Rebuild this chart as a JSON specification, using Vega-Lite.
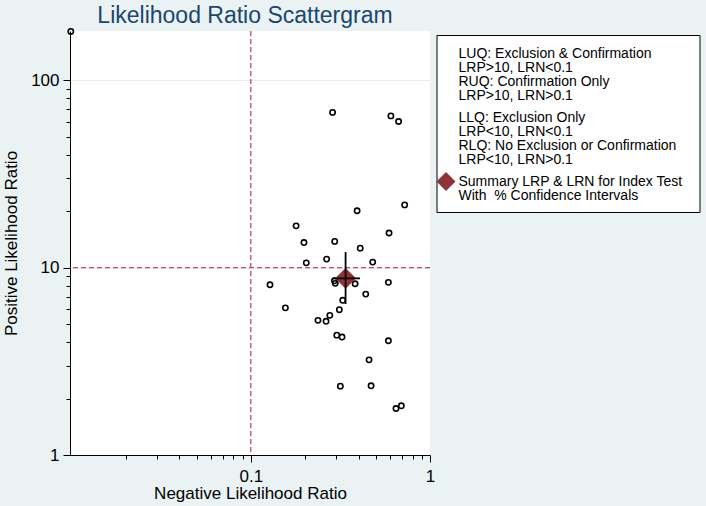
{
  "$schema": "https://vega.github.io/schema/vega-lite/v6.json",
  "width": 360,
  "height": 424,
  "autosize": {"type": "none"},
  "padding": {"left": 70, "top": 31, "right": 276, "bottom": 51},
  "background": "#eaf2f3",
  "config": {
    "view": {"fill": "white", "stroke": null},
    "font": "Liberation Sans",
    "style": {"guide-label": {"lineHeight": 14.2}}
  },
  "title": {
    "text": "Likelihood Ratio Scattergram",
    "fontSize": 23,
    "font": "Liberation Sans",
    "fontWeight": "normal",
    "color": "#1a476f",
    "anchor": "middle",
    "frame": "group",
    "dx": -5,
    "offset": -2
  },
  "resolve": {"axis": {"x": "independent", "y": "independent"}},
  "datasets": {
    "studies": [
      {"lrn": 0.0099, "lrp": 182},
      {"lrn": 0.286, "lrp": 67.3},
      {"lrn": 0.605, "lrp": 64.5},
      {"lrn": 0.668, "lrp": 60.2},
      {"lrn": 0.722, "lrp": 21.6},
      {"lrn": 0.392, "lrp": 20.1},
      {"lrn": 0.179, "lrp": 16.7},
      {"lrn": 0.591, "lrp": 15.3},
      {"lrn": 0.198, "lrp": 13.6},
      {"lrn": 0.294, "lrp": 13.8},
      {"lrn": 0.408, "lrp": 12.7},
      {"lrn": 0.204, "lrp": 10.6},
      {"lrn": 0.265, "lrp": 11.1},
      {"lrn": 0.479, "lrp": 10.7},
      {"lrn": 0.128, "lrp": 8.1},
      {"lrn": 0.293, "lrp": 8.5},
      {"lrn": 0.296, "lrp": 8.24},
      {"lrn": 0.382, "lrp": 8.2},
      {"lrn": 0.586, "lrp": 8.34},
      {"lrn": 0.438, "lrp": 7.22},
      {"lrn": 0.326, "lrp": 6.69},
      {"lrn": 0.156, "lrp": 6.1},
      {"lrn": 0.312, "lrp": 5.96},
      {"lrn": 0.276, "lrp": 5.56},
      {"lrn": 0.237, "lrp": 5.23},
      {"lrn": 0.263, "lrp": 5.17},
      {"lrn": 0.302, "lrp": 4.36},
      {"lrn": 0.323, "lrp": 4.26},
      {"lrn": 0.586, "lrp": 4.07},
      {"lrn": 0.457, "lrp": 3.22},
      {"lrn": 0.316, "lrp": 2.33},
      {"lrn": 0.469, "lrp": 2.34},
      {"lrn": 0.646, "lrp": 1.77},
      {"lrn": 0.692, "lrp": 1.83}
    ],
    "summary": [
      {"lrn": 0.338, "lrp": 8.76, "lrn_lo": 0.288, "lrn_hi": 0.407, "lrp_lo": 6.39, "lrp_hi": 12.1, "kind": "Summary LRP & LRN for Index Test|With \u00a0% Confidence Intervals"}
    ],
    "cutoffs": [
      {"lrn": 0.1, "lrp": 10}
    ]
  },
  "layer": [
    {
      "data": {"name": "cutoffs"},
      "mark": {"type": "rule", "color": "#bf4a66", "strokeWidth": 1.3, "strokeDash": [5, 3]},
      "encoding": {
        "x": {
          "field": "lrn", "type": "quantitative",
          "scale": {"type": "log", "domain": [0.0098, 1]},
          "axis": {
            "orient": "bottom",
            "title": "Negative Likelihood Ratio",
            "values": [0.1, 1],
            "format": "~g",
            "tickSize": 7,
            "domain": false,
            "grid": false,
            "tickColor": "black",
            "labelFontSize": 17,
            "labelColor": "black",
            "labelFlush": false,
            "labelOverlap": false,
            "labelPadding": 6,
            "titleFontSize": 17,
            "titleFontWeight": "normal",
            "titleColor": "black",
            "titlePadding": 1
          }
        }
      }
    },
    {
      "data": {"name": "cutoffs"},
      "mark": {"type": "rule", "color": "#bf4a66", "strokeWidth": 1.3, "strokeDash": [5, 3]},
      "encoding": {
        "y": {
          "field": "lrp", "type": "quantitative",
          "scale": {"type": "log", "domain": [1, 183]},
          "axis": {
            "orient": "left",
            "title": "Positive Likelihood Ratio",
            "values": [1, 10, 100],
            "format": "~g",
            "tickSize": 7,
            "domain": false,
            "grid": true,
            "gridColor": "#e3ecef",
            "gridWidth": 1,
            "tickColor": "black",
            "labelAngle": 0,
            "labelFontSize": 17,
            "labelColor": "black",
            "labelFlush": false,
            "labelOverlap": false,
            "labelPadding": 4,
            "titleFontSize": 17,
            "titleFontWeight": "normal",
            "titleColor": "black",
            "titlePadding": 10
          }
        }
      }
    },
    {
      "data": {"name": "studies"},
      "mark": {"type": "point", "shape": "circle", "filled": false, "color": "black", "strokeWidth": 1.6, "size": 28, "opacity": 1},
      "encoding": {
        "x": {
          "field": "lrn", "type": "quantitative",
          "scale": {"type": "log", "domain": [0.0098, 1]},
          "axis": {
            "orient": "bottom",
            "title": null,
            "values": [0.02, 0.03, 0.04, 0.05, 0.06, 0.07, 0.08, 0.09, 0.2, 0.3, 0.4, 0.5, 0.6, 0.7, 0.8, 0.9],
            "labels": false,
            "tickSize": 4,
            "grid": false,
            "domainColor": "black",
            "tickColor": "black"
          }
        },
        "y": {
          "field": "lrp", "type": "quantitative",
          "scale": {"type": "log", "domain": [1, 183]},
          "axis": {
            "orient": "left",
            "title": null,
            "values": [2, 3, 4, 5, 6, 7, 8, 9, 20, 30, 40, 50, 60, 70, 80, 90],
            "labels": false,
            "tickSize": 4,
            "grid": false,
            "domainColor": "black",
            "tickColor": "black"
          }
        }
      }
    },
    {
      "data": {"name": "summary"},
      "mark": {"type": "point", "shape": "diamond", "filled": true, "size": 440, "opacity": 1, "strokeWidth": 0},
      "encoding": {
        "x": {"field": "lrn", "type": "quantitative", "scale": {"type": "log", "domain": [0.0098, 1]}, "axis": null},
        "y": {"field": "lrp", "type": "quantitative", "scale": {"type": "log", "domain": [1, 183]}, "axis": null},
        "color": {
          "field": "kind", "type": "nominal",
          "scale": {
            "domain": [
              "LUQ: Exclusion & Confirmation|LRP>10, LRN<0.1|RUQ: Confirmation Only|LRP>10, LRN>0.1",
              "LLQ: Exclusion Only|LRP<10, LRN<0.1|RLQ: No Exclusion or Confirmation \u2800|LRP<10, LRN>0.1",
              "Summary LRP & LRN for Index Test|With \u00a0% Confidence Intervals"
            ],
            "range": ["rgba(0,0,0,0)", "rgba(0,0,0,0)", "#8e3439"]
          },
          "legend": {
            "orient": "none",
            "legendX": 366.5,
            "legendY": 4,
            "title": null,
            "symbolType": "diamond",
            "symbolSize": 361,
            "symbolStrokeWidth": 0,
            "symbolOffset": -9,
            "labelOffset": 3,
            "labelFontSize": 14,
            "labelFont": "Liberation Sans",
            "labelColor": "black",
            "labelLimit": 400,
            "labelExpr": "split(datum.label, '|')",
            "padding": 9,
            "rowPadding": 4,
            "strokeColor": "black",
            "fillColor": "white",
            "encode": {
              "labels": {"lineHeight": {"value": 14.2}}
            }
          }
        }
      }
    },
    {
      "data": {"name": "summary"},
      "mark": {"type": "rule", "color": "black", "strokeWidth": 1.8},
      "encoding": {
        "x": {"field": "lrn", "type": "quantitative", "scale": {"type": "log", "domain": [0.0098, 1]}, "axis": null},
        "y": {"field": "lrp_lo", "type": "quantitative", "scale": {"type": "log", "domain": [1, 183]}, "axis": null},
        "y2": {"field": "lrp_hi"}
      }
    },
    {
      "data": {"name": "summary"},
      "mark": {"type": "rule", "color": "black", "strokeWidth": 1.8},
      "encoding": {
        "y": {"field": "lrp", "type": "quantitative", "scale": {"type": "log", "domain": [1, 183]}, "axis": null},
        "x": {"field": "lrn_lo", "type": "quantitative", "scale": {"type": "log", "domain": [0.0098, 1]}, "axis": null},
        "x2": {"field": "lrn_hi"}
      }
    }
  ]
}
